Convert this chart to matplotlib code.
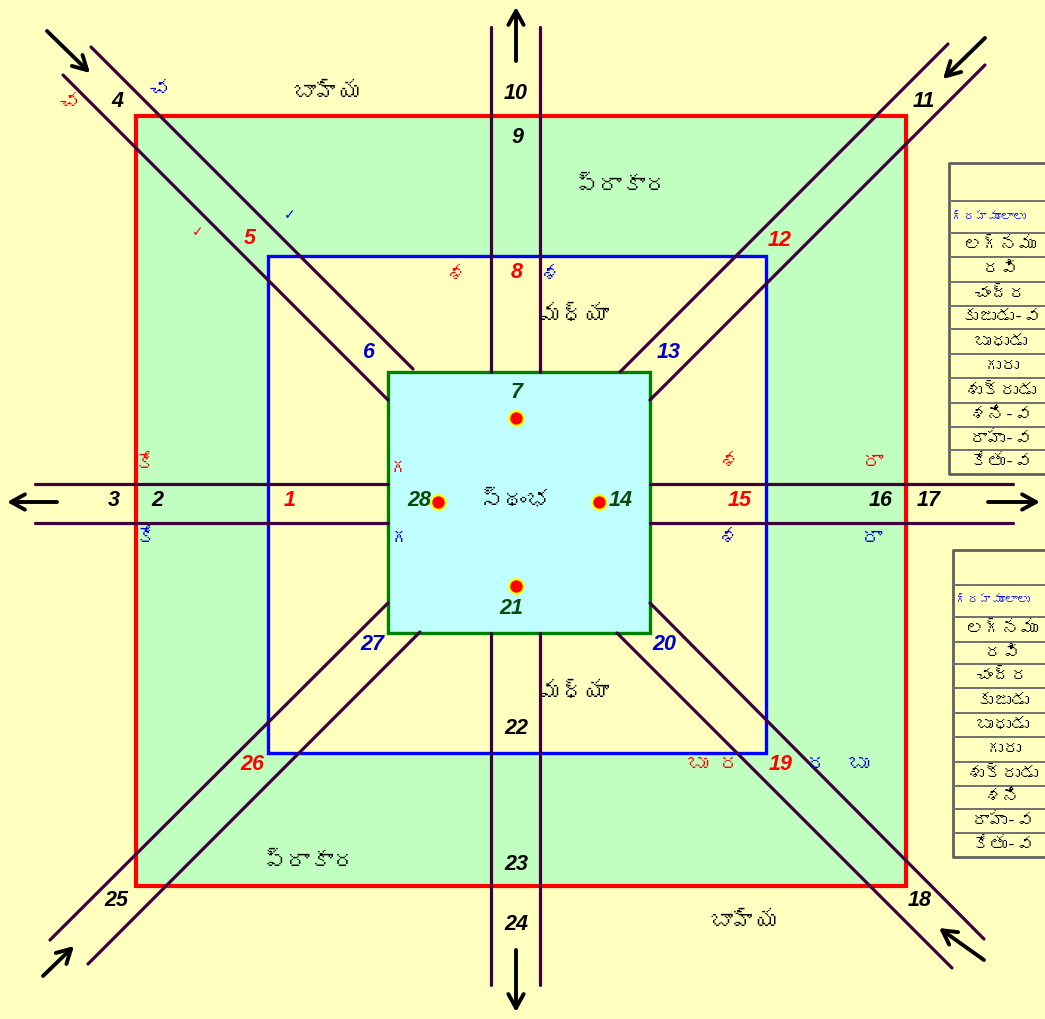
import matplotlib.pyplot as plt
from matplotlib.patches import Rectangle
from matplotlib import font_manager
from matplotlib.ft2font import FT2Font

# --- diagram data (pixel space of the original picture) ---
boxes = [  # x0, y0, x1, y1, edge, fill, width
    (136, 116, 906, 886, '#FF0000', '#C0FFC0', 3.0),
    (268, 256, 766, 753, '#0000FF', '#FFFFC0', 2.4),
    (388, 372, 650, 633, '#008000', '#C0FFFF', 2.4),
]

roads = [
    ((491, 27), (491, 372)), ((540, 27), (540, 372)),
    ((491, 633), (491, 985)), ((540, 633), (540, 985)),
    ((35, 484), (388, 484)), ((35, 523), (388, 523)),
    ((650, 484), (1013, 484)), ((650, 523), (1013, 523)),
    ((91, 47), (413, 369)), ((63, 75), (388, 400)),
    ((948, 44), (620, 372)), ((985, 65), (650, 400)),
    ((50, 940), (388, 603)), ((88, 964), (420, 632)),
    ((984, 939), (650, 603)), ((952, 968), (617, 633)),
]

arrows = [  # tail -> head
    ((516, 61), (516, 7)), ((516, 950), (516, 1012)),
    ((57, 502), (7, 502)), ((988, 502), (1040, 502)),
    ((47, 31), (90, 73)), ((985, 38), (943, 79)),
    ((43, 976), (74, 946)), ((984, 960), (939, 928)),
]

dots = [(516, 418), (438, 502), (599, 502), (516, 586)]

RED, BLUE, BLK, DGR = '#FF0000', '#0000CC', '#000000', '#0A4A0A'
numbers = [
    ('1', 290, 501, RED), ('2', 157, 501, BLK), ('3', 114, 501, BLK),
    ('4', 117, 101, BLK), ('5', 250, 238, RED), ('6', 369, 353, BLUE),
    ('7', 517, 392, DGR), ('8', 517, 272, RED), ('9', 517, 137, BLK),
    ('10', 516, 93, BLK), ('11', 924, 101, BLK), ('12', 780, 240, RED),
    ('13', 669, 352, BLUE), ('14', 621, 501, DGR), ('15', 740, 501, RED),
    ('16', 881, 501, BLK), ('17', 929, 501, BLK), ('18', 920, 901, BLK),
    ('19', 781, 765, RED), ('20', 664, 645, BLUE), ('21', 511, 608, DGR),
    ('22', 516, 729, BLK), ('23', 516, 865, BLK), ('24', 516, 925, BLK),
    ('25', 116, 901, BLK), ('26', 252, 765, RED), ('27', 372, 645, BLUE),
    ('28', 419, 501, DGR),
]

zone_labels = [
    ('బాహ్య', 328, 93), ('బాహ్య', 745, 922),
    ('ప్రాకార', 622, 186), ('ప్రాకార', 310, 862),
    ('మధ్యా', 574, 316), ('మధ్యా', 574, 693),
    ('స్థంభ', 515, 501),
]

small_labels = [
    ('చ', 70, 103, RED), ('చ', 160, 90, BLUE),
    ('శ', 457, 276, RED), ('శ', 551, 276, BLUE),
    ('గ', 400, 469, RED), ('గ', 401, 539, BLUE),
    ('కే', 145, 465, RED), ('కే', 146, 539, BLUE),
    ('శ', 730, 463, RED), ('శ', 729, 539, BLUE),
    ('రా', 873, 463, RED), ('రా', 872, 539, BLUE),
    ('బు', 698, 765, RED), ('ర', 730, 765, RED),
    ('ర', 817, 765, BLUE), ('బు', 859, 765, BLUE),
]
ticks = [(198, 232, RED), (290, 215, BLUE)]

table_title = 'గ్రహమూలాలు'
table1_rows = ['లగ్నము', 'రవి', 'చంద్ర', 'కుజుడు-వ', 'బుధుడు', 'గురు',
               'శుక్రుడు', 'శని-వ', 'రాహు-వ', 'కేతు-వ']
table2_rows = ['లగ్నము', 'రవి', 'చంద్ర', 'కుజుడు', 'బుధుడు', 'గురు',
               'శుక్రుడు', 'శని', 'రాహు-వ', 'కేతు-వ']
table1_lines = [163, 201, 233, 257, 282, 306, 329, 354, 378, 403, 427, 450, 474]
table2_lines = [550, 585, 617, 642, 664, 688, 713, 737, 762, 786, 809, 833, 857]


def find_telugu_font():
    for f in font_manager.fontManager.ttflist:
        try:
            if 0x0C17 in FT2Font(f.fname).get_charmap():
                return f.name
        except Exception:
            pass
    return 'DejaVu Sans'


TEL = [find_telugu_font(), 'DejaVu Sans']
NUMFONT = 'Liberation Sans'

fig = plt.figure(figsize=(10.45, 10.19), dpi=100)
fig.patch.set_facecolor('#FFFFC0')
ax = fig.add_axes([0, 0, 1, 1])
ax.set_xlim(0, 1045)
ax.set_ylim(1019, 0)
ax.axis('off')

for x0, y0, x1, y1, ec, fc, lw in boxes:
    ax.add_patch(Rectangle((x0, y0), x1 - x0, y1 - y0, facecolor=fc,
                           edgecolor=ec, linewidth=lw, zorder=1))

for (x0, y0), (x1, y1) in roads:
    ax.plot([x0, x1], [y0, y1], color='#3F003F', lw=2.3,
            solid_capstyle='round', zorder=3)

for tail, head in arrows:
    ax.annotate('', xy=head, xytext=tail,
                arrowprops=dict(arrowstyle='->,head_length=1.0,head_width=0.55',
                                color='black', lw=2.8, shrinkA=0, shrinkB=0,
                                capstyle='round'), zorder=4)

for x, y in dots:
    ax.plot(x, y, 'o', ms=10.5, mfc='#FF0000', mec='#FFFF00', mew=1.6, zorder=5)

for s, x, y, c in numbers:
    ax.text(x, y, s, color=c, fontsize=15.5, fontweight='bold', fontstyle='italic',
            family=NUMFONT, ha='center', va='center', zorder=6)

for s, x, y in zone_labels:
    ax.text(x, y, s, color='black', fontsize=17, fontweight='bold', family=TEL,
            ha='center', va='center', zorder=6)

for s, x, y, c in small_labels:
    ax.text(x, y, s, color=c, fontsize=16, fontweight='bold', family=TEL,
            ha='center', va='center', zorder=6)
for x, y, c in ticks:
    ax.text(x, y, '✓', color=c, fontsize=10, fontweight='bold',
            family='DejaVu Sans', ha='center', va='center', zorder=6)


def draw_table(x0, lines, rows, cx):
    ax.plot([1045, x0, x0, 1045], [lines[0], lines[0], lines[-1], lines[-1]],
            color='#606060', lw=2.0, zorder=6, clip_on=True)
    for y in lines[1:-1]:
        ax.plot([x0, 1045], [y, y], color='#707070', lw=1.4, zorder=6)
    ax.text(x0 + 3, (lines[1] + lines[2]) / 2, table_title, color='#0000FF',
            fontsize=9, family=TEL, ha='left', va='center', zorder=7,
            clip_on=True)
    for i, r in enumerate(rows):
        ax.text(cx, (lines[i + 2] + lines[i + 3]) / 2, r, color='black',
                fontsize=13, family=TEL, ha='center', va='center',
                zorder=7, clip_on=True)


draw_table(949, table1_lines, table1_rows, 1001)
draw_table(953, table2_lines, table2_rows, 1003)

fig.savefig('out.png', dpi=100, facecolor=fig.get_facecolor())
